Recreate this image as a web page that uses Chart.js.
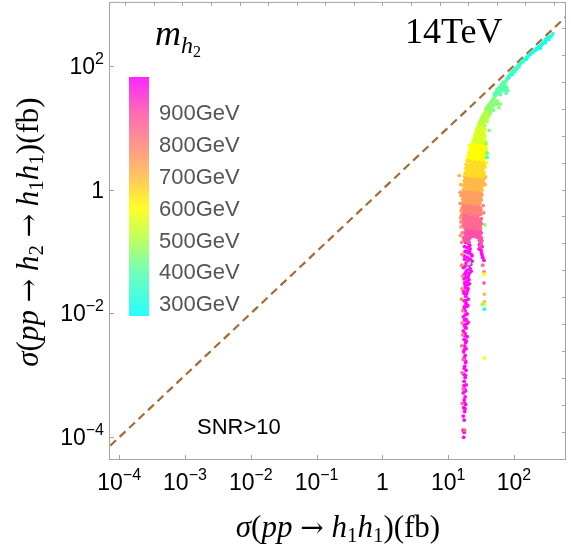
<!DOCTYPE html>
<html>
<head>
<meta charset="utf-8">
<script src="https://cdn.jsdelivr.net/npm/chart.js@4.4.0/dist/chart.umd.min.js"></script>
<style>
  html, body { margin: 0; padding: 0; background: #fff; }
  #wrap { width: 571px; height: 553px; }
</style>
</head>
<body>
<div id="wrap"><canvas id="xsChart" width="571" height="553"></canvas></div>
<script>
// sigma(pp -> h1h1) [fb], sigma(pp -> h2 -> h1h1) [fb], grouped by m_h2 (GeV)
const massBins = [300, 350, 400, 450, 500, 550, 600, 650, 700, 750, 800, 850, 900, 1000];

const pts300 = [[390,328],[370,300],[345,290],[316,272],[300,250],[285,235],[262,222],[245,205],[230,195],[215,188],[200,172],[187,162],[175,152],[165,145],[152,132],[35.5,0.0117],
  [330,282],[300,265],[275,230],[255,212],[235,200],[225,185],[205,178],[195,165],[180,158],[160,138],[340,265],[290,240],[260,210],[220,180],[155,128],[250,190],[300,235]];
const pts350 = [[142,125],[132,118],[125,108],[119,104],[112,96],[107,90],[100,84],[95,79],[90,74],[86,70],[82,66],[39,3.3],
  [138,115],[128,112],[115,100],[104,86],[97,82],[92,78],[88,72],[120,96],[110,88],[102,80],[95,72],[84,64],[80,63]];
const pts400 = [[78,60],[75,56],[72,52],[70,50],[66,47],[63,44],[60,41],[78,44],[80,40],[76,36],[57,38],[54,35],[52,33],[62,34],[39,3.9],
  [68,54],[65,50],[62,47],[58,43],[55,41],[53,37],[50,35],[73,47],[70,45],[68,42],[65,39],[71,40],[60,37]];
const pts450 = [[50,31],[48,29],[46,27],[44,25],[42,23.5],[40,22],[53,26],[56,24],[59,21],[47,21.5],[44,20],[42,9],[37.6,5.5],[33,0.014],[20.8,0.064],[36,0.27],
  [45,26],[43,23],[41,21],[39,21],[50,28],[52,24],[48,23],[46,24],[55,27],[58,25],[62,24],[49,19],[44,18]];
const pts500 = [[39,20],[37.6,18.8],[36,17.5],[35,16.5],[33.5,15.5],[32.5,14.5],[38,15],[40,17],[42,18],[34,13.5],[36,14],[31,13],[39,12.5],[30,12],[33,12],[35,11],
  [37,20],[40,19],[36,16],[38,17.5],[34,14.8],[39,14],[32,13.2],[35,12.7],[37,13],[31,11.5],[34,11.5],[36.5,11],[41,15],[43,16.5]];
const pts550 = [[29,11],[28,10],[31,10.2],[33,10],[36,9.5],[27,9.2],[29.5,9],[32,8.8],[26.5,8.3],[28.5,8],[31,7.8],[34,8.2],[25.6,7.4],[27.5,7.1],[30,7],[33,6.8],[36,7.3],[24.8,6.4],[26.5,6.2],[29,6.1],[31.6,6],[34.5,6.2],
  [30,10.5],[32,9.5],[34,9],[28,8.6],[30.5,8.3],[33,7.4],[35,8],[26,7.8],[29,7.5],[31.5,7.2],[25,6.9],[27,6.7],[29,6.6],[32,6.4],[35,6.7],[24,6.0],[26,5.8],[28,5.7],[30,5.8],[33,5.9],[37,6]];
const pts600 = [[23.5,5.6],[25.6,5.5],[27.5,5.4],[29.5,5.5],[31.6,5.3],[34,5.5],[36.5,5.2],[22.5,4.9],[24.5,4.8],[26.5,4.7],[28.5,4.8],[30.5,4.6],[33,4.7],[35.5,4.5],[21.5,4.3],[23.5,4.2],[25.6,4.1],[27.5,4.25],[29.5,4.0],[32,4.1],[34.5,4.3],[20.8,3.8],[22.5,3.65],[24.5,3.55],[26.5,3.7],[28.5,3.5],[31,3.6],[33.5,3.45],[36,3.75],[20.1,3.3],[22,3.2],[23.9,3.1],[26,3.25],[28,3.05],[30,3.15],[32.5,3.0],[35,3.2],[35,0.043],[35.5,0.014],[35.5,0.0019],
  [21,5.1],[23,5.3],[25,5.0],[27,5.1],[29,4.95],[31,5.05],[33,5.1],[35,4.9],[37,4.8],[22,4.5],[24,4.45],[26,4.4],[28,4.35],[30,4.4],[32,4.45],[34,4.0],[36.5,4.1],[21,3.95],[23,3.9],[25,3.85],[27,3.8],[29,3.75],[31,3.9],[33,3.7],[35.5,3.5],[20.5,3.5],[21.5,3.45],[23.5,3.35],[25.5,3.4],[27.5,3.3],[29.5,3.35],[31.5,3.25],[34,3.35],[37,3.4],
  [38,4.5],[39,3.6],[38.5,2.7]];
const pts650 = [[19.4,2.9],[21,2.8],[23,2.75],[25,2.85],[27,2.7],[29,2.8],[31.6,2.65],[34,2.8],[18.7,2.55],[20.5,2.45],[22.3,2.4],[24.2,2.5],[26,2.35],[28,2.45],[30.2,2.3],[32.7,2.4],[35.5,2.5],[18.4,2.2],[20,2.1],[21.8,2.05],[23.5,2.15],[25.5,2.0],[27.5,2.1],[29.5,1.98],[31.6,2.05],[34,1.95],[18.1,1.85],[19.6,1.78],[21.3,1.82],[23,1.74],[25,1.8],[27,1.72],[29,1.8],[31,1.7],[33.5,1.78],
  [20,2.95],[22,2.9],[24,2.65],[26,2.8],[28,2.6],[30,2.75],[33,2.55],[36,2.7],[19.5,2.3],[21.3,2.25],[23,2.3],[25,2.2],[27,2.25],[29,2.15],[31,2.2],[33.5,2.2],[36,2.3],[19,1.95],[20.8,1.92],[22.6,1.9],[24.3,1.95],[26.5,1.85],[28.5,1.9],[30.5,1.85],[32.5,1.9],[35,1.85],[18.5,1.72],[20.2,1.7],[22,1.65],[24,1.68],[26,1.65],[28,1.62],[30,1.68],[32.5,1.62],[34.5,1.68]];
const pts700 = [[17.8,1.62],[19.2,1.55],[20.8,1.5],[22.5,1.58],[24.2,1.48],[26,1.55],[28,1.45],[30,1.52],[32.5,1.42],[35,1.5],[17.5,1.38],[19,1.32],[20.5,1.28],[22.2,1.35],[24,1.25],[25.8,1.3],[27.7,1.22],[29.8,1.3],[32,1.2],[34.5,1.28],[17.2,1.17],[18.7,1.12],[20.3,1.08],[22,1.15],[23.8,1.06],[25.6,1.1],[27.5,1.04],[29.5,1.1],[31.6,1.02],[14.7,1.68],[26.5,1.08],[35.5,0.0205],[35.5,0.0153],
  [18.4,1.48],[20,1.42],[21.6,1.45],[23.3,1.4],[25,1.45],[27,1.38],[29,1.42],[31.2,1.36],[33.6,1.38],[18,1.25],[19.7,1.2],[21.3,1.22],[23,1.18],[24.8,1.2],[26.7,1.15],[28.7,1.2],[30.8,1.14],[33,1.15],[17.6,1.05],[19.3,1.02],[21,1.0],[22.8,1.03],[24.6,0.99],[26.5,1.0],[28.5,0.98],[30.5,1.0],[32.7,0.98],
  [37,1.6],[36.5,1.2],[15.5,1.2]];
const pts750 = [[17,0.98],[18.5,0.95],[20,0.92],[21.8,0.97],[23.5,0.9],[25.3,0.94],[27.2,0.88],[29.3,0.93],[31.5,0.87],[16.8,0.84],[18.3,0.8],[19.8,0.78],[21.5,0.82],[23.2,0.76],[25,0.8],[27,0.74],[29,0.78],[31,0.73],[16.6,0.7],[18,0.67],[19.6,0.65],[21.2,0.69],[23,0.64],[24.8,0.67],[26.8,0.62],[28.8,0.66],[30.5,0.61],[15.7,0.8],[15.2,0.6],
  [17.6,0.9],[19.2,0.88],[20.8,0.86],[22.6,0.84],[24.4,0.87],[26.2,0.82],[28.2,0.85],[30.3,0.8],[32.5,0.82],[17.3,0.76],[18.9,0.73],[20.5,0.72],[22.2,0.74],[24,0.7],[25.8,0.72],[27.8,0.69],[29.8,0.71],[31.8,0.68],[17.2,0.63],[18.8,0.61],[20.3,0.6],[22,0.62],[23.8,0.59],[25.8,0.61],[27.8,0.58],[29.8,0.6],
  [15.2,0.9],[15.8,0.45],[15.4,0.35],[15.6,0.25],[15.3,0.18]];
const pts800 = [[16.5,0.6],[17.8,0.57],[19.4,0.55],[21,0.58],[22.8,0.54],[24.6,0.56],[26.5,0.52],[28.5,0.55],[30.5,0.51],[16.3,0.5],[17.6,0.48],[19.2,0.46],[20.8,0.49],[22.5,0.45],[24.3,0.47],[26.2,0.44],[28.2,0.46],[30.2,0.43],[16,0.45],[15.9,0.38],[15.7,0.3],[16.3,0.2],[16,0.14],[16.3,0.09],[16,0.06],[16.6,0.04],[16.3,0.025],[16,0.017],[16.6,0.011],[16.3,0.007],[16.6,0.0045],[16,0.003],[35,0.047],
  [17,0.54],[18.6,0.52],[20.2,0.51],[21.8,0.53],[23.6,0.5],[25.5,0.51],[27.5,0.49],[29.5,0.5],[31.5,0.47],[17,0.44],[18.4,0.43],[20,0.42],[21.6,0.44],[23.4,0.41],[25.2,0.43],[27.2,0.4],[29.2,0.42],[31.2,0.4],
  [34,0.55],[34.5,0.42]];
const pts850 = [[17,0.41],[18.5,0.4],[20,0.38],[21.8,0.41],[23.5,0.37],[25.5,0.4],[27.5,0.36],[29.5,0.39],[16.8,0.34],[18.2,0.33],[19.8,0.32],[21.5,0.34],[23.2,0.31],[25,0.33],[27,0.3],[29,0.32],[31,0.3],[17.2,0.28],[18.8,0.27],[20.5,0.26],[22.2,0.28],[24,0.25],[26,0.27],[28,0.25],[30.2,0.26],[16.9,0.0018],[16.3,0.0011],[16.9,0.0006],[16.3,0.00035],[17.8,0.00013],[35,0.031],[33.5,0.06],
  [17.6,0.37],[19.2,0.35],[20.8,0.36],[22.6,0.34],[24.3,0.36],[26.3,0.33],[28.3,0.34],[30.5,0.33],[32,0.34],[17.5,0.31],[19,0.3],[20.6,0.29],[22.3,0.31],[24,0.29],[26,0.3],[28,0.28],[30,0.29],[32,0.28],[16.6,0.26],[18,0.25],[21.4,0.24],[23.2,0.26],[25,0.23],[27,0.24],[29,0.23],[31,0.24]];
const pts900 = [[18,0.24],[19.6,0.23],[21.3,0.22],[23,0.235],[24.8,0.21],[26.8,0.225],[28.8,0.2],[30.8,0.215],[17.5,0.2],[19,0.19],[20.7,0.185],[22.5,0.195],[24.3,0.18],[26.2,0.19],[29.8,0.17],[30.3,0.18],[32,0.165],[17.2,0.165],[18.7,0.16],[20.3,0.155],[21,0.16],[30.5,0.148],[29.8,0.152],[31.6,0.14],
  [18.8,0.22],[20.4,0.21],[22,0.2],[23.8,0.22],[25.8,0.2],[27.8,0.21],[29.8,0.19],[31.8,0.2],[18.2,0.18],[19.8,0.17],[21.5,0.18],[23.2,0.175],[25.2,0.18],[27.2,0.17],[31,0.16],[32.5,0.15],[17.6,0.15],[19.3,0.145],[20.8,0.14],[31.5,0.13],[30.2,0.12]];
const pts1000 = [[19.5,0.3],[21.5,0.29],[23.5,0.28],[25.5,0.29],[22.5,0.25],[24.5,0.24],[20.5,0.21],[23,0.2],[25,0.2],[27,0.19],[21.5,0.17],[30,0.16],[18.5,0.14],[20.5,0.135],[30,0.13],[31,0.125],[32.7,0.12],[17.8,0.12],[19.5,0.115],[21.5,0.11],[29.5,0.11],[31.6,0.105],[32,0.095],[32.7,0.088],[33.5,0.08],[35,0.072],
  [18.1,0.1],[20.1,0.095],[22.3,0.09],[17.5,0.085],[19.4,0.08],[21.5,0.075],[23.1,0.07],[18.7,0.065],[20.8,0.06],[17,0.055],[19.4,0.05],[22.3,0.048],[18.1,0.044],[20.1,0.04],[17.5,0.036],[19.4,0.033],[21,0.03],[18.1,0.028],[20,0.025],[17,0.023],[19,0.021],[18.5,0.019],[20.1,0.017],[17.5,0.016],
  [18.7,0.0145],[19.4,0.013],[17.5,0.012],[18.1,0.011],[19.4,0.0098],[17,0.0088],[18.7,0.008],[20,0.0072],[17.5,0.0065],[18.7,0.0058],[17,0.0052],[18.1,0.0047],[19.4,0.0042],[17.5,0.0038],[18.4,0.0034],[17.8,0.003],[18.7,0.0027],[17.2,0.0024],[18.1,0.0021],[17.5,0.0019],
  [18.4,0.0016],[17.8,0.0014],[18.7,0.0012],[17.2,0.00105],[18.1,0.00092],[17.5,0.0008],[18.7,0.0007],[17.8,0.0006],[17,0.00052],[18.1,0.00045],[17.5,0.0004],[18.4,0.00034],[17.2,0.0003],[17.8,0.00026],[17,0.00022],[17.5,0.00019],[16.9,0.00013],[17.5,0.00012],[17.2,0.0001],
  [20,0.27],[22,0.26],[24,0.265],[26,0.25],[21,0.23],[23,0.225],[25,0.22],[27,0.215],[19.5,0.19],[21.5,0.2],[24,0.185],[26,0.18],[18.8,0.155],[20,0.15],[21.2,0.125],[19,0.1],[21,0.1],[23,0.085],[17.8,0.075],[20,0.07],[22,0.062],[18,0.058],[21.5,0.053],[18.7,0.047],[20.8,0.044],[17.4,0.041],[19,0.038],[20.7,0.035],[17.8,0.031],[19.8,0.029],[18.5,0.026],[17.5,0.021],[19.5,0.023],[18.5,0.016],[19.8,0.0135],[17.8,0.013],[18.2,0.0095],[17.8,0.0078],[19.2,0.0068],[18.2,0.006],[17.8,0.0044],[18.8,0.0036],[17.6,0.0026],[18.4,0.0017],[17.6,0.0013],[18.2,0.001],[17.4,0.00068],[18.3,0.00056],[17.6,0.00036],[18.0,0.00029]];

const massPoints = [pts300, pts350, pts400, pts450, pts500, pts550, pts600, pts650, pts700, pts750, pts800, pts850, pts900, pts1000];

// reference line sigma(h2) = sigma(h1h1)
const diagonal = [1e-5, 1e4];

// axis ranges and tick labels (exponents of ten)
const xRange = [7.1e-5, 617];
const yRange = [4.3e-5, 1070];
const xTickExps = [-4, -3, -2, -1, 0, 1, 2];
const yTickExps = [-4, -2, 0, 2];

// colour bar legend
const legendMasses = [300, 400, 500, 600, 700, 800, 900];
const barMassRange = [260, 1010];

// colour scale for m_h2
const stopMass = [260, 400, 500, 600, 700, 800, 900, 1010];
const stopRgb = [[0,255,255],[90,255,170],[180,255,70],[255,255,0],[255,185,70],[255,130,120],[255,80,170],[255,0,255]];

function massColor(m) {
  if (m <= stopMass[0]) return 'rgb(' + stopRgb[0].join(',') + ')';
  for (let i = 1; i < stopMass.length; i++) {
    if (m <= stopMass[i]) {
      const t = (m - stopMass[i - 1]) / (stopMass[i] - stopMass[i - 1]);
      const c = stopRgb[i - 1].map((v, k) => Math.round(v + t * (stopRgb[i][k] - v)));
      return 'rgb(' + c.join(',') + ')';
    }
  }
  return 'rgb(' + stopRgb[stopRgb.length - 1].join(',') + ')';
}

// draw a run of text pieces with their own fonts and vertical offsets
function drawRich(ctx, parts, x, y, align) {
  let w = 0;
  parts.forEach(p => { ctx.font = p.font; w += ctx.measureText(p.t).width; });
  let cx = align === 'center' ? x - w / 2 : (align === 'right' ? x - w : x);
  ctx.textAlign = 'left';
  ctx.textBaseline = 'alphabetic';
  parts.forEach(p => {
    ctx.font = p.font;
    ctx.fillText(p.t, cx, y + (p.dy || 0));
    cx += ctx.measureText(p.t).width;
  });
}

const SANS = '"Liberation Sans", Arial, sans-serif';
const SERIF = '"Liberation Serif", "Times New Roman", serif';

function powLabel(e) {
  if (e === 0) return [{ t: '1', font: '23px ' + SANS }];
  return [
    { t: '10', font: '23px ' + SANS },
    { t: e < 0 ? '\u2212' + (-e) : String(e), font: '16px ' + SANS, dy: -10 }
  ];
}

function titleParts(withH2, size) {
  const it = 'italic ' + size + 'px ' + SERIF;
  const rm = size + 'px ' + SERIF;
  const arrow = Math.round(size * 0.9) + 'px "DejaVu Serif", serif';
  const sub = Math.round(size * 0.68) + 'px ' + SERIF;
  const parts = [{ t: '\u03c3', font: it }, { t: '(', font: rm }, { t: 'pp', font: it }, { t: ' ', font: rm }, { t: '\u2192', font: arrow }, { t: ' ', font: rm }];
  if (withH2) {
    parts.push({ t: 'h', font: it }, { t: '2', font: sub, dy: 5 }, { t: ' ', font: rm }, { t: '\u2192', font: arrow }, { t: ' ', font: rm });
  }
  parts.push({ t: 'h', font: it }, { t: '1', font: sub, dy: 5 }, { t: 'h', font: it }, { t: '1', font: sub, dy: 5 }, { t: ')(fb)', font: rm });
  return parts;
}

const decorations = {
  id: 'decorations',
  afterDatasetsDraw(chart) {
    const { ctx, chartArea: a, scales: { x, y } } = chart;
    ctx.save();

    // frame
    ctx.strokeStyle = '#a3a3a3';
    ctx.lineWidth = 1;
    ctx.strokeRect(a.left + 0.5, a.top + 0.5, a.right - a.left - 1, a.bottom - a.top - 1);

    // decade ticks, left and bottom
    ctx.beginPath();
    yTickExps.forEach(e => {
      const py = Math.round(y.getPixelForValue(Math.pow(10, e))) + 0.5;
      ctx.moveTo(a.left, py); ctx.lineTo(a.left + 5, py);
    });
    xTickExps.forEach(e => {
      const px = Math.round(x.getPixelForValue(Math.pow(10, e))) + 0.5;
      ctx.moveTo(px, a.bottom); ctx.lineTo(px, a.bottom - 5);
    });
    // natural-log ticks, top and right
    for (let n = Math.ceil(Math.log(xRange[0])); n <= Math.floor(Math.log(xRange[1])); n++) {
      const px = Math.round(x.getPixelForValue(Math.exp(n))) + 0.5;
      ctx.moveTo(px, a.top); ctx.lineTo(px, a.top + 4);
    }
    for (let n = Math.ceil(Math.log(yRange[0])); n <= Math.floor(Math.log(yRange[1])); n++) {
      const py = Math.round(y.getPixelForValue(Math.exp(n))) + 0.5;
      ctx.moveTo(a.right, py); ctx.lineTo(a.right - 4, py);
    }
    ctx.stroke();

    // tick labels
    ctx.fillStyle = '#000';
    yTickExps.forEach(e => {
      drawRich(ctx, powLabel(e), a.left - 5, y.getPixelForValue(Math.pow(10, e)) + 8, 'right');
    });
    xTickExps.forEach(e => {
      drawRich(ctx, powLabel(e), x.getPixelForValue(Math.pow(10, e)), a.bottom + 30, 'center');
    });

    // axis titles
    drawRich(ctx, titleParts(false, 31), 338, 537, 'center');
    ctx.save();
    ctx.translate(38, 232);
    ctx.rotate(-Math.PI / 2);
    drawRich(ctx, titleParts(true, 31), 0, 0, 'center');
    ctx.restore();

    // annotations
    drawRich(ctx, [{ t: '14TeV', font: '36px ' + SERIF }], 405, 43, 'left');
    drawRich(ctx, [{ t: 'SNR>10', font: '22px ' + SANS }], 197, 434, 'left');
    drawRich(ctx, [
      { t: 'm', font: 'italic 36px ' + SERIF },
      { t: 'h', font: 'italic 24px ' + SERIF, dy: 8 },
      { t: '2', font: '16px ' + SERIF, dy: 12 }
    ], 155, 45, 'left');

    // colour bar
    const barTop = 77, barBottom = 316, barLeft = 129, barW = 20;
    const span = barMassRange[1] - barMassRange[0];
    const grad = ctx.createLinearGradient(0, barBottom, 0, barTop);
    stopMass.forEach(m => {
      grad.addColorStop(Math.min(1, Math.max(0, (m - barMassRange[0]) / span)), massColor(m));
    });
    ctx.globalAlpha = 0.85;
    ctx.fillStyle = grad;
    ctx.fillRect(barLeft, barTop, barW, barBottom - barTop);
    ctx.globalAlpha = 1;
    ctx.fillStyle = '#555';
    legendMasses.forEach(m => {
      const py = barBottom - (m - barMassRange[0]) / span * (barBottom - barTop);
      drawRich(ctx, [{ t: m + 'GeV', font: '22px ' + SANS }], 159, py + 8, 'left');
    });

    ctx.restore();
  }
};

const datasets = massPoints.map((pts, i) => ({
  type: 'scatter',
  data: pts.map(p => ({ x: p[0], y: p[1] })),
  pointRadius: 1.9,
  pointBorderWidth: 0,
  pointBackgroundColor: massColor(massBins[i]),
  pointHoverRadius: 1.9
}));

datasets.push({
  type: 'line',
  data: diagonal.map(v => ({ x: v, y: v })),
  borderColor: '#a66a35',
  borderWidth: 2.2,
  borderDash: [8, 5],
  pointRadius: 0,
  fill: false
});

new Chart(document.getElementById('xsChart').getContext('2d'), {
  type: 'scatter',
  data: { datasets: datasets },
  options: {
    responsive: false,
    animation: false,
    devicePixelRatio: 1,
    layout: { padding: { left: 109, top: 1, right: 5, bottom: 93 } },
    plugins: { legend: { display: false }, tooltip: { enabled: false } },
    scales: {
      x: { type: 'logarithmic', min: xRange[0], max: xRange[1], display: false },
      y: { type: 'logarithmic', min: yRange[0], max: yRange[1], display: false }
    }
  },
  plugins: [decorations]
});
</script>
</body>
</html>
